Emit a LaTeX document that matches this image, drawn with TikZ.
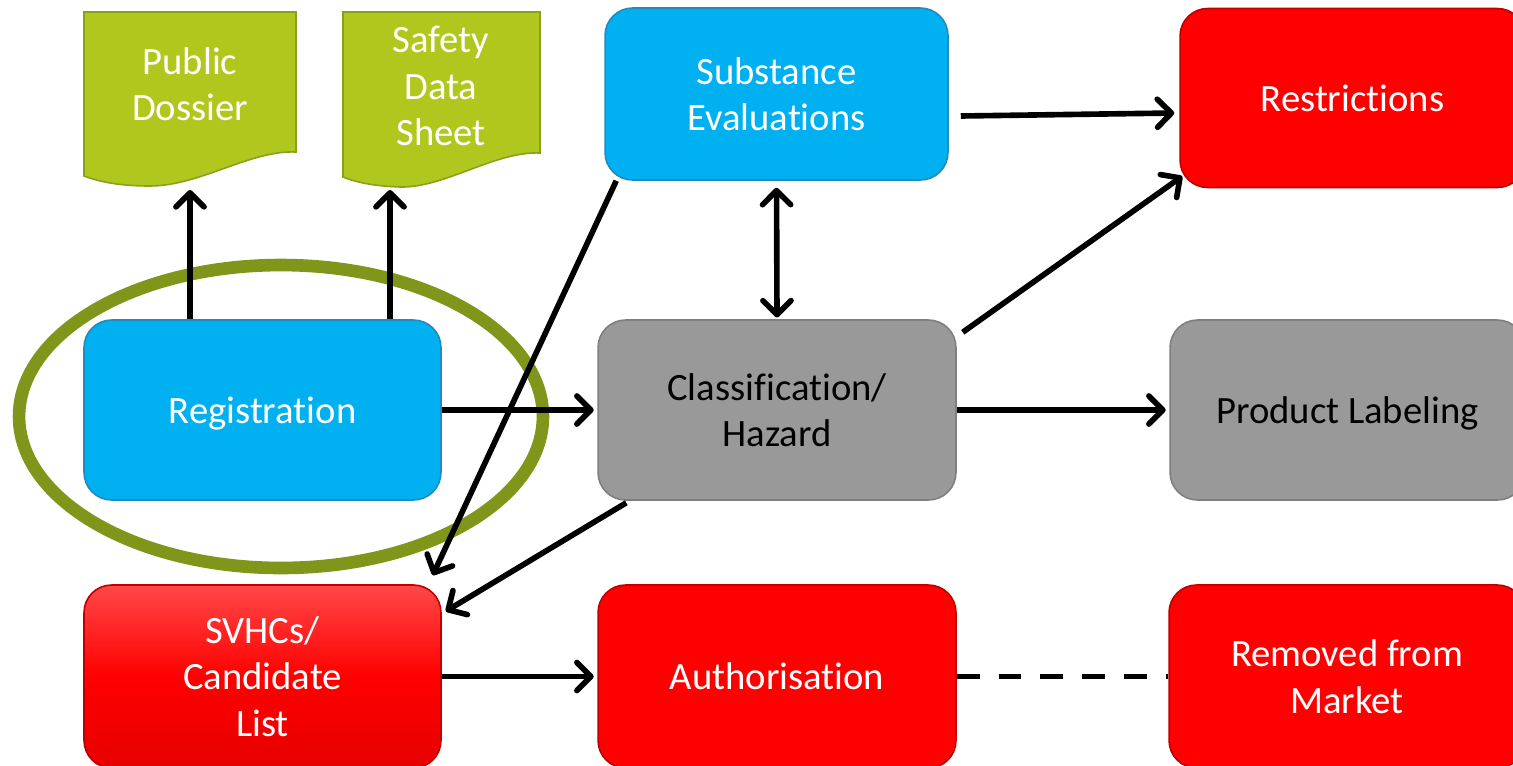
\documentclass[tikz,border=0pt]{standalone}
\usepackage{fontspec}
\setmainfont{Carlito}[RawFeature={-liga;-clig;-dlig}]
\usetikzlibrary{arrows.meta,calc}
\definecolor{cblue}{HTML}{00B0F0}
\definecolor{cbluedk}{HTML}{1F8BBF}
\definecolor{cgreen}{HTML}{B0C81E}
\definecolor{cgreendk}{HTML}{8AA01A}
\definecolor{cgray}{HTML}{999999}
\definecolor{cgraydk}{HTML}{7F7F7F}
\definecolor{cred}{HTML}{FF0000}
\definecolor{creddk}{HTML}{C00000}
\definecolor{colive}{HTML}{7F961A}
\definecolor{credtop}{HTML}{FF4848}
\definecolor{credbot}{HTML}{E60000}
\begin{document}
\begin{tikzpicture}[x=0.02cm,y=-0.02cm,
  >={Straight Barb[length=8pt,width=16pt,round]},
  txt/.style={font=\fontsize{22}{26.5}\selectfont, align=center},
  boxbase/.style={txt, rounded corners=0.55cm, line width=0.9pt, inner sep=0pt},
  bluebox/.style={boxbase, fill=cblue, draw=cbluedk, text=white},
  graybox/.style={boxbase, fill=cgray, draw=cgraydk, text=black},
  redbox/.style={boxbase, fill=cred, draw=creddk, text=white},
  gradbox/.style={boxbase, top color=credtop, bottom color=credbot, middle color=cred, draw=creddk, text=white},
  docshape/.style={fill=cgreen, draw=cgreendk, line width=0.9pt},
  arr/.style={line width=3.2pt, ->},
  darr/.style={line width=3.2pt, <->},
  dline/.style={line width=3.2pt, dash pattern=on 13pt off 10.8pt},
  ring/.style={draw=colive, line width=7.2pt}]
\clip (0,0) rectangle (1513,765);
\fill[white] (0,0) rectangle (1513,765);

% document shapes
\draw[docshape] (84,12) -- (296,12) -- (296,152)
  .. controls (250,150) and (200,186) .. (150,186)
  .. controls (120,186) and (100,182) .. (84,176) -- cycle;
\node[txt, text=white] (pd) at (190,84) {Public\\Dossier};
\coordinate (pdb) at (190,190);

\draw[docshape] (343,12) -- (540,12) -- (540,153)
  .. controls (495,151) and (445,188) .. (400,187)
  .. controls (375,186) and (358,183) .. (343,177) -- cycle;
\node[txt, text=white] (sds) at (441,86) {Safety\\Data\\Sheet};
\coordinate (sdsb) at (390,190);

% boxes
\node[bluebox, minimum width=6.86cm, minimum height=3.44cm] (sub) at (776.5,94) {Substance\\Evaluations};
\node[redbox, minimum width=6.9cm, minimum height=3.58cm, text depth=0pt] (rst) at (1352.5,98) {Restrictions};
\node[bluebox, minimum width=7.14cm, minimum height=3.6cm, text depth=0pt] (reg) at (262.5,410) {Registration};
\node[graybox, minimum width=7.16cm, minimum height=3.6cm] (cls) at (777,410) {Classification/\\Hazard};
\node[graybox, minimum width=7.1cm, minimum height=3.6cm, text depth=0pt] (pl) at (1347.5,410) {Product Labeling};
\node[gradbox, minimum width=7.14cm, minimum height=3.66cm] (svhc) at (262.5,676.5) {SVHCs/\\Candidate\\List};
\node[redbox, minimum width=7.16cm, minimum height=3.66cm, text depth=0pt] (auth) at (777,676.5) {Authorisation};
\node[redbox, minimum width=7.12cm, minimum height=3.66cm] (rem) at (1347,676.5) {Removed from\\Market};

% highlight ellipse
\draw[ring] (281,416.5) ellipse [x radius=5.24cm, y radius=3.03cm];

% connectors
\draw[arr] (reg.north -| pdb) -- (pdb);
\draw[arr] (reg.north -| sdsb) -- (sdsb);
\draw[arr] (reg.east) -- ([xshift=-2pt]cls.west);
\draw[darr, shorten <=4pt, shorten >=1pt] (sub.south) -- (cls.north);
\draw[arr] ([shift={(12,22)}]sub.east) -- ([shift={(-5,15)}]rst.west);
\draw[arr] ([shift={(6,13)}]cls.north east) -- ([shift={(3,-12)}]rst.south west);
\draw[arr] (cls.east) -- ([xshift=-2pt]pl.west);
\draw[arr] ([shift={(12,0)}]sub.south west) -- ([shift={(-9,-9)}]svhc.north east);
\draw[arr] ([shift={(29,2)}]cls.south west) -- ([shift={(4,27)}]svhc.north east);
\draw[arr] (svhc.east) -- ([xshift=-2pt]auth.west);
\draw[dline] (auth.east) -- (rem.west);
\end{tikzpicture}
\end{document}
